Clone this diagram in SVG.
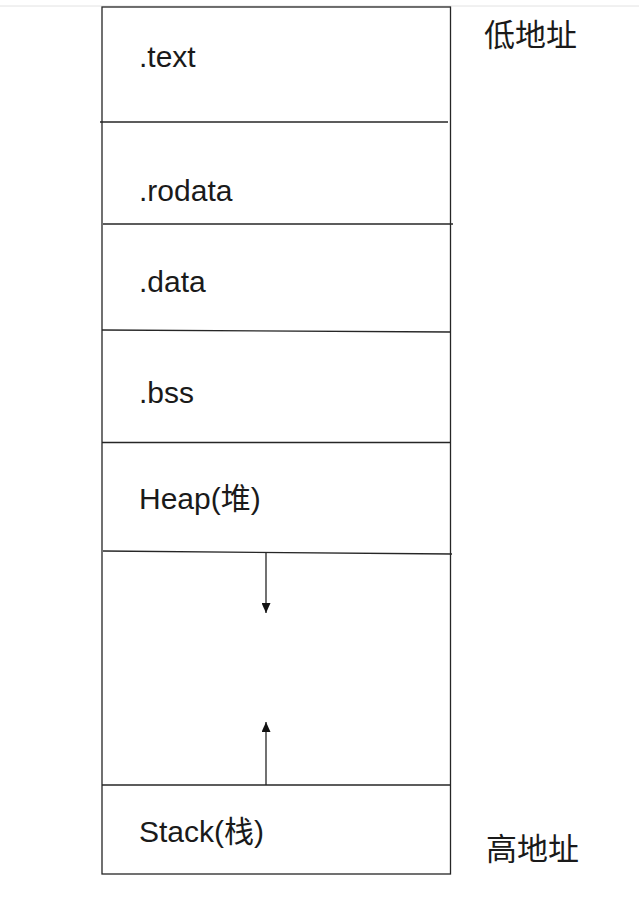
<svg xmlns="http://www.w3.org/2000/svg" width="639" height="899" viewBox="0 0 639 899">
<style>
.ln{stroke:#262626;stroke-width:1.3;fill:none}
.t{font-family:"Liberation Sans","Noto Sans CJK SC",sans-serif;font-size:30px;fill:#1a1a1a}
.c{font-family:"Noto Sans CJK SC",sans-serif;font-size:31px;fill:#1a1a1a}
</style>
<defs>
<marker id="ah" viewBox="0 0 10 10" refX="10" refY="5" markerWidth="10" markerHeight="9" markerUnits="userSpaceOnUse" orient="auto" preserveAspectRatio="none">
<path d="M0,0 L10,5 L0,10 z" fill="#111"/>
</marker>
</defs>
<rect width="639" height="899" fill="#fff"/>
<line x1="0" y1="6" x2="639" y2="6" stroke="#e2e2e2" stroke-width="1"/>
<g id="memory-box">
<rect class="ln" x="102" y="7" width="348.5" height="867"/>
</g>
<g id="dividers">
<line class="ln" x1="100" y1="122" x2="448" y2="122"/>
<line class="ln" x1="103" y1="224" x2="453" y2="224"/>
<line class="ln" x1="102" y1="330" x2="450" y2="332"/>
<line class="ln" x1="102" y1="442.5" x2="450" y2="442.5"/>
<line class="ln" x1="103" y1="551" x2="452" y2="554"/>
<line class="ln" x1="102" y1="785" x2="450" y2="785"/>
</g>
<g id="seg-text"><text class="t" x="139" y="67">.text</text></g>
<g id="seg-rodata"><text class="t" x="139" y="201">.rodata</text></g>
<g id="seg-data"><text class="t" x="139" y="292">.data</text></g>
<g id="seg-bss"><text class="t" x="139" y="403">.bss</text></g>
<g id="seg-heap"><text class="t" x="139" y="509">Heap(堆)</text></g>
<g id="seg-stack"><text class="t" x="139" y="842">Stack(栈)</text></g>
<g id="label-low"><text class="c" x="484" y="46">低地址</text></g>
<g id="label-high"><text class="c" x="486" y="860">高地址</text></g>
<g id="connectors">
<line class="ln" x1="266" y1="552" x2="266" y2="613" marker-end="url(#ah)"/>
<line class="ln" x1="266" y1="785" x2="266" y2="722" marker-end="url(#ah)"/>
</g>
</svg>
